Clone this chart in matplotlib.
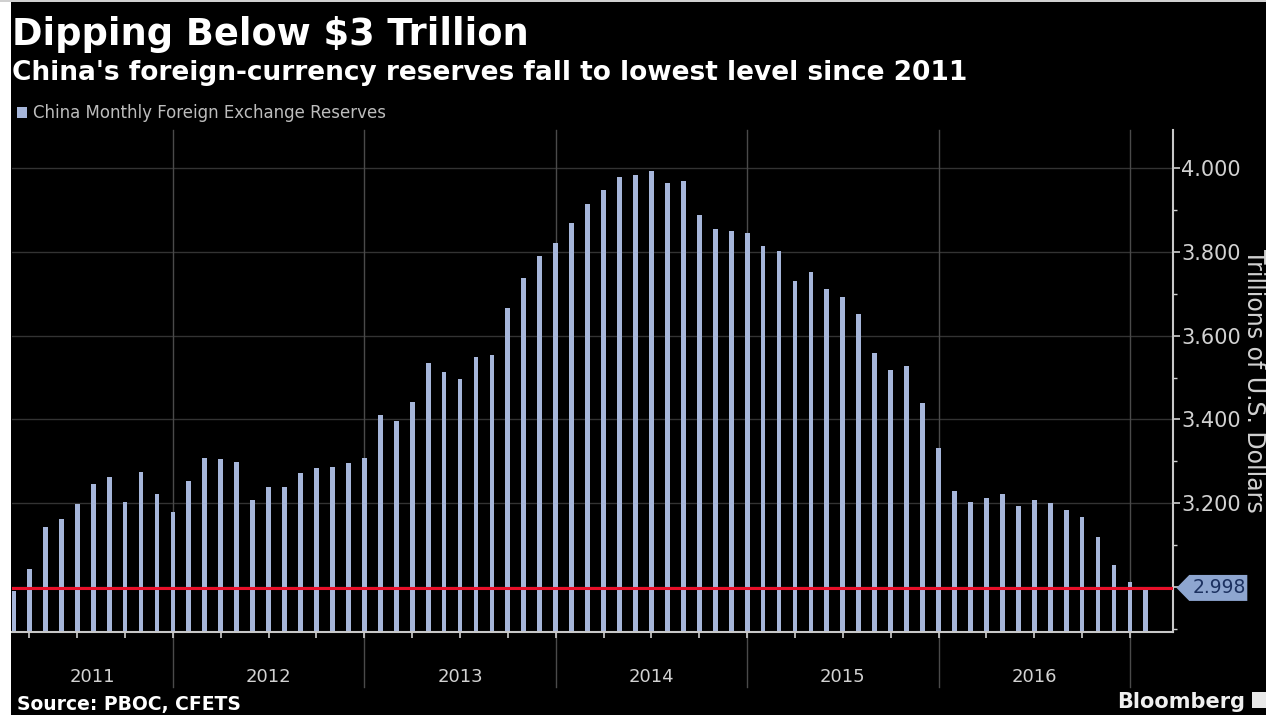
import numpy as np
import pandas as pd
import matplotlib
matplotlib.use("Agg")
import matplotlib.pyplot as plt
from matplotlib.patches import Polygon, Rectangle
from matplotlib.transforms import blended_transform_factory

# China monthly FX reserves, trillions of USD, Feb 2011 - Jan 2017
months = pd.date_range("2011-02-01", "2017-01-01", freq="MS")
reserves = [2.990, 3.042, 3.143, 3.163, 3.198, 3.245, 3.262, 3.202, 3.275, 3.221, 3.180,
            3.253, 3.308, 3.305, 3.299, 3.207, 3.240, 3.240, 3.272, 3.285, 3.287, 3.297, 3.309,
            3.410, 3.397, 3.441, 3.534, 3.513, 3.497, 3.548, 3.554, 3.665, 3.737, 3.789, 3.822,
            3.868, 3.914, 3.948, 3.978, 3.984, 3.994, 3.965, 3.969, 3.887, 3.854, 3.850, 3.844,
            3.815, 3.803, 3.730, 3.751, 3.712, 3.693, 3.652, 3.558, 3.517, 3.527, 3.439, 3.332,
            3.230, 3.204, 3.212, 3.221, 3.193, 3.207, 3.201, 3.184, 3.168, 3.119, 3.052, 3.011,
            2.998]
years = ["2011", "2012", "2013", "2014", "2015", "2016"]
yticks = [3.0, 3.2, 3.4, 3.6, 3.8, 4.0]

bar_color = "#a6b6da"
grid_color = "#333333"
text_grey = "#d2d2d2"

plt.rcParams["font.family"] = ["DejaVu Sans"]

fig = plt.figure(figsize=(12.66, 7.15), dpi=100, facecolor="black")
ax = fig.add_axes([12 / 1266, 0.1159, 1161 / 1266, 0.7018])
ax.set_facecolor("black")

x = np.arange(len(reserves))
xmin, xmax = -0.09, 72.7
ax.set_xlim(xmin, xmax)
ax.set_ylim(2.8925, 4.09)

# horizontal grid
for v in yticks:
    ax.axhline(v, color=grid_color, lw=1, zorder=0)

ax.bar(x, reserves, width=0.3, color=bar_color, zorder=2)

# latest value line
last = reserves[-1]
ax.axhline(last, color="#e8102a", lw=2.2, zorder=3)

# year dividers, carried down into the label strip
dec_idx = [i for i, m in enumerate(months) if m.month == 12]
for i in dec_idx:
    ax.axvline(i, ymin=-0.11, ymax=1, color="#4a4a4a", lw=1, zorder=1, clip_on=False)

# year labels centred in each visible year
xt = blended_transform_factory(ax.transData, ax.transAxes)
bounds = [xmin] + dec_idx
for k, yr in enumerate(years):
    ax.text((bounds[k] + bounds[k + 1]) / 2, -0.09, yr, transform=xt,
            ha="center", va="center", color=text_grey, fontsize=13)

# quarter ticks along the bottom
q_idx = [i for i, m in enumerate(months) if m.month in (3, 6, 9, 12)]
ax.set_xticks(q_idx)
ax.set_xticklabels([])
ax.tick_params(axis="x", colors="#cfcfcf", length=4, width=1.2)

# right-hand value axis
ax.yaxis.tick_right()
ax.set_yticks(yticks)
ax.set_yticklabels(["" if v == 3.0 else f"{v:.3f}" for v in yticks])
ax.set_yticks(np.arange(2.9, 4.05, 0.1), minor=True)
ax.tick_params(axis="y", which="major", colors="#cfcfcf", labelcolor=text_grey,
               length=5, width=1.2, pad=1, labelsize=15)
ax.tick_params(axis="y", which="minor", colors="#cfcfcf", length=3, width=1)

for side in ("left", "top"):
    ax.spines[side].set_visible(False)
for side in ("right", "bottom"):
    ax.spines[side].set_color("#c8c8c8")
    ax.spines[side].set_linewidth(1.5)

# value tag for the latest reading
yt = blended_transform_factory(ax.transAxes, ax.transData)
h = 0.031
tag = Polygon([(1.003, last), (1.014, last + h), (1.064, last + h),
               (1.064, last - h), (1.014, last - h)], closed=True,
              transform=yt, facecolor="#8ea6d0", edgecolor="none",
              clip_on=False, zorder=5)
ax.add_patch(tag)
ax.text(1.040, last, f"{last:.3f}", transform=yt, ha="center", va="center",
        color="#1c3160", fontsize=13.5, zorder=6, clip_on=False)

# frame decorations
fig.patches.append(Rectangle((0, 0), 11 / 1266, 1, transform=fig.transFigure,
                             facecolor="white", edgecolor="none"))
fig.patches.append(Rectangle((0, 1 - 2 / 715), 1, 2 / 715, transform=fig.transFigure,
                             facecolor="#d0d0d0", edgecolor="none"))

# titles
fig.text(12 / 1266, 1 - 45 / 715, "Dipping Below $3 Trillion", color="white",
         fontsize=26.5, fontweight="bold", va="baseline")
fig.text(12 / 1266, 1 - 80 / 715,
         "China's foreign-currency reserves fall to lowest level since 2011",
         color="white", fontsize=19, fontweight="bold", va="baseline")

# legend entry
fig.patches.append(Rectangle((17 / 1266, 1 - 118 / 715), 10 / 1266, 11 / 715,
                             transform=fig.transFigure, facecolor=bar_color,
                             edgecolor="none"))
fig.text(33 / 1266, 1 - 118 / 715, "China Monthly Foreign Exchange Reserves",
         color="#bdbdbd", fontsize=12, va="baseline")

# axis title at the right edge
fig.text(1254 / 1266, 1 - 381 / 715, "Trillions of U.S. Dollars", color=text_grey,
         fontsize=17, rotation=270, ha="center", va="center")

# footer
fig.text(17 / 1266, 1 - 710 / 715, "Source: PBOC, CFETS", color="white",
         fontsize=13.5, fontweight="bold", va="baseline")
fig.text(1245 / 1266, 1 - 708 / 715, "Bloomberg", color="#f0f0f0",
         fontsize=15, fontweight="bold", va="baseline", ha="right")
fig.patches.append(Rectangle((1252 / 1266, 1 - 708 / 715), 14 / 1266, 16 / 715,
                             transform=fig.transFigure, facecolor="#e8e8e8",
                             edgecolor="none"))

fig.savefig("out.png", dpi=100, facecolor="black")
